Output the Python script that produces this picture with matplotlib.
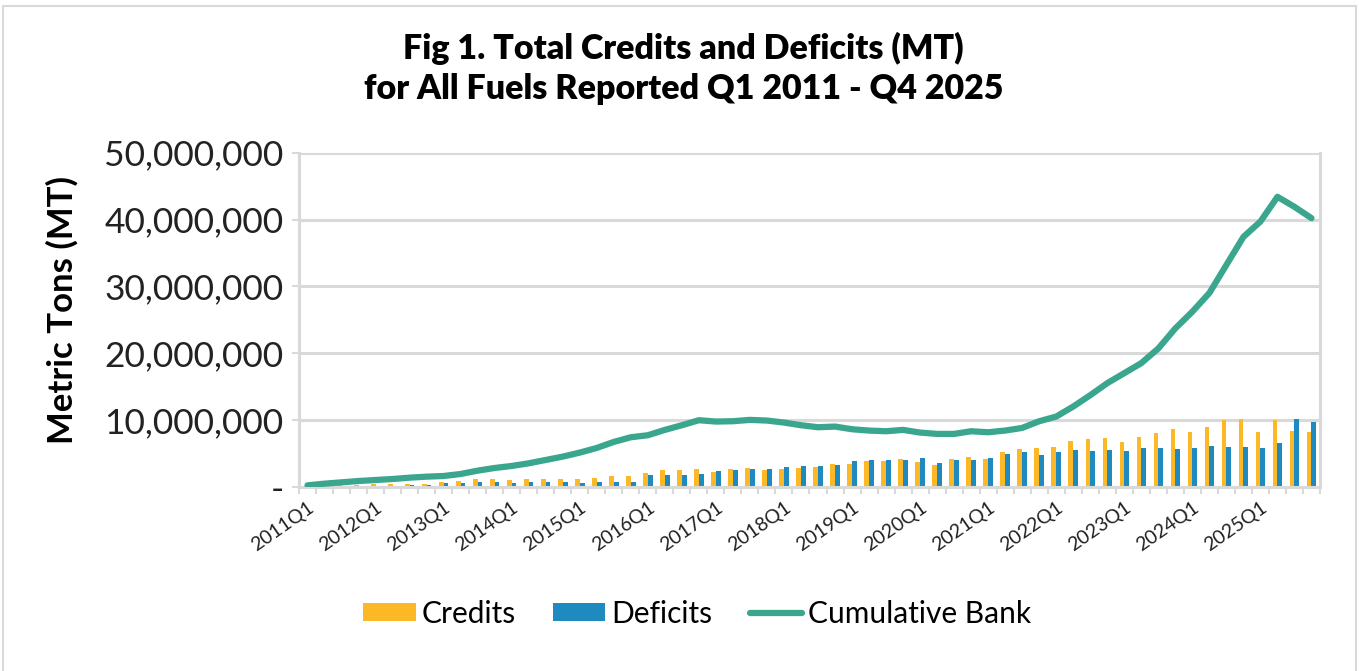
import matplotlib
matplotlib.use('Agg')
import matplotlib.pyplot as plt
import numpy as np
from matplotlib.ticker import FuncFormatter
from matplotlib.patches import Rectangle

quarters = [f"{y}Q{q}" for y in range(2011, 2026) for q in range(1, 5)]

# values in millions of metric tons
credits_m = [0.1, 0.15, 0.2, 0.3, 0.4, 0.35, 0.45, 0.45, 0.65, 0.8,
             1.1, 1.1, 0.95, 1.1, 1.2, 1.1, 1.15, 1.3, 1.55, 1.6,
             2.0, 2.45, 2.5, 2.65, 2.25, 2.6, 2.8, 2.55, 2.6, 2.8,
             2.9, 3.4, 3.4, 3.8, 3.9, 4.1, 3.75, 3.3, 4.1, 4.4,
             4.1, 5.15, 5.65, 5.75, 5.9, 6.85, 7.1, 7.25, 6.75, 7.4,
             8.1, 8.6, 8.15, 9.0, 10.0, 10.2, 8.15, 10.0, 8.4, 8.25]
deficits_m = [0.05, 0.05, 0.08, 0.1, 0.15, 0.15, 0.2, 0.2, 0.55, 0.6,
              0.65, 0.65, 0.6, 0.65, 0.7, 0.7, 0.6, 0.7, 0.7, 0.7,
              1.7, 1.7, 1.75, 1.85, 2.4, 2.55, 2.6, 2.65, 2.95, 3.15,
              3.15, 3.25, 3.8, 4.0, 4.0, 3.95, 4.25, 3.5, 4.0, 4.0,
              4.3, 4.9, 5.2, 4.75, 5.2, 5.45, 5.3, 5.5, 5.35, 5.8,
              5.85, 5.6, 5.75, 6.1, 5.95, 5.9, 5.75, 6.5, 10.1, 9.7]
bank_m = [0.2, 0.45, 0.65, 0.85, 1.0, 1.15, 1.35, 1.5, 1.6, 1.9,
          2.4, 2.8, 3.1, 3.5, 4.0, 4.5, 5.1, 5.8, 6.7, 7.4,
          7.7, 8.5, 9.2, 9.95, 9.75, 9.8, 10.0, 9.9, 9.6, 9.2,
          8.9, 9.0, 8.6, 8.4, 8.3, 8.5, 8.1, 7.9, 7.9, 8.3,
          8.15, 8.4, 8.8, 9.8, 10.5, 12.0, 13.7, 15.5, 17.0, 18.5,
          20.7, 23.7, 26.2, 29.0, 33.2, 37.4, 39.7, 43.4, 41.9, 40.2]

credits = np.array(credits_m) * 1e6
deficits = np.array(deficits_m) * 1e6
bank = np.array(bank_m) * 1e6

YELLOW = '#FDB827'
BLUE = '#1F8AC0'
TEAL = '#3AA68E'
GRID = '#D9D9D9'

plt.rcParams['font.family'] = ['Lato', 'DejaVu Sans']

fig = plt.figure(figsize=(13.59, 6.71), dpi=100)
fig.patches.append(Rectangle((0.0025, -0.02), 0.995, 1.011, transform=fig.transFigure,
                             fill=False, edgecolor=GRID, linewidth=1.5))

ax = fig.add_axes([0.22, 0.2747, 0.7513, 0.4977])
x = np.arange(len(quarters))
w = 0.28
b1 = ax.bar(x - w / 2, credits, width=w, color=YELLOW, label='Credits', zorder=2)
b2 = ax.bar(x + w / 2, deficits, width=w, color=BLUE, label='Deficits', zorder=2)
l1, = ax.plot(x, bank, color=TEAL, linewidth=4.5, label='Cumulative Bank', zorder=3,
              solid_capstyle='round', solid_joinstyle='round')

ax.set_xlim(-0.5, len(quarters) - 0.5)
ax.set_ylim(0, 50e6)
ax.set_yticks(np.arange(0, 50e6 + 1, 10e6))
ax.yaxis.set_major_formatter(FuncFormatter(lambda v, p: '-' if v == 0 else f"{int(v):,}"))
ax.grid(axis='y', color=GRID, linewidth=2.2, zorder=0)
ax.set_axisbelow(True)

ax.set_xticks(np.arange(-0.5, len(quarters), 1.0))
ax.set_xticklabels([])
ax.set_xticks(x[::4], minor=True)
ax.set_xticklabels(quarters[::4], minor=True, rotation=35, ha='right', va='top',
                   rotation_mode='anchor', fontsize=14, color='#222222')
ax.tick_params(axis='x', which='major', length=5, width=1.5, color=GRID)
ax.tick_params(axis='x', which='minor', length=0, pad=9)
ax.tick_params(axis='y', length=5, width=1.5, color=GRID, labelsize=25.5, pad=6,
               labelcolor='#222222')

ax.spines['top'].set_visible(False)
for s in ['left', 'right', 'bottom']:
    ax.spines[s].set_color(GRID)
    ax.spines[s].set_linewidth(2.2)

fig.text(0.0456, 0.538, 'Metric Tons (MT)', rotation=90, ha='center', va='center',
         fontsize=25, fontweight='bold')

fig.text(0.503, 0.928, 'Fig 1. Total Credits and Deficits (MT)', ha='center', va='center',
         fontsize=24.5, fontweight='heavy')
fig.text(0.503, 0.868, 'for All Fuels Reported Q1 2011 - Q4 2025', ha='center', va='center',
         fontsize=24.5, fontweight='heavy')

fig.legend([b1, b2, l1], ['Credits', 'Deficits', 'Cumulative Bank'],
           loc='center', bbox_to_anchor=(0.513, 0.085), ncol=3, frameon=False,
           fontsize=21.5, handlelength=1.75, handleheight=0.55, columnspacing=1.25,
           handletextpad=0.2)

fig.savefig('out.png', dpi=100)
